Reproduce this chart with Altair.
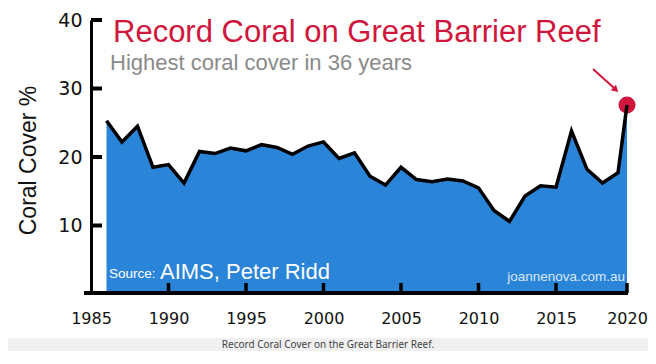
import altair as alt
import pandas as pd

# ---- data ----
years = list(range(1986, 2021))
cover = [25.3, 22.2, 24.5, 18.5, 18.9, 16.2, 20.8, 20.5, 21.3, 20.9,
         21.8, 21.4, 20.4, 21.6, 22.2, 19.8, 20.6, 17.2, 15.9, 18.5,
         16.7, 16.4, 16.8, 16.5, 15.5, 12.2, 10.6, 14.3, 15.8, 15.6,
         23.8, 18.2, 16.2, 17.7, 27.6]
x_ticks = [1985, 1990, 1995, 2000, 2005, 2010, 2015, 2020]
y_ticks = [10, 20, 30, 40]
title_text = "Record Coral on Great Barrier Reef"
subtitle_text = "Highest coral cover in 36 years"
source_label = "Source:"
source_text = "AIMS, Peter Ridd"
credit_text = "joannenova.com.au"
caption_text = "Record Coral Cover on the Great Barrier Reef."

df = pd.DataFrame({"year": years, "cover": cover})
xt = pd.DataFrame({"year": x_ticks[1:]})
yt = pd.DataFrame({"cover": y_ticks})
one = pd.DataFrame({"k": [0]})

W, H = 536, 274
RED = "#d0163c"
BLUE = "#2a84d8"

x_enc = alt.X("year:Q",
              scale=alt.Scale(domain=[1985, 2019, 2020], range=[0, 527, 536]),
              axis=alt.Axis(values=x_ticks, format="d", tickSize=0, domain=False,
                            grid=False, labelFont="DejaVu Sans", labelFontSize=16,
                            labelColor="#111", labelPadding=16, labelFlush=False,
                            labelOverlap=False, title=None, zindex=1))
y_enc = alt.Y("cover:Q",
              scale=alt.Scale(domain=[0, 40], nice=False, zero=True),
              axis=alt.Axis(values=y_ticks, tickSize=0, domain=True, domainWidth=3,
                            domainColor="black", grid=False, labelFont="DejaVu Sans",
                            labelFontSize=19, labelColor="#111", labelPadding=9,
                            labelFlush=False, title="Coral Cover %",
                            titleFont="Liberation Sans", titleFontSize=23,
                            titleFontWeight="normal", titleColor="#111",
                            titleX=-56, titleY=140, titleBaseline="alphabetic",
                            titleAlign="center", zindex=1))

panel = alt.Chart(one).mark_rect(fill="white").encode(
    x=alt.value(-83), x2=alt.value(557), y=alt.value(-12), y2=alt.value(318))

area = alt.Chart(df).mark_area(color=BLUE, opacity=1).encode(x=x_enc, y=y_enc)
dot = alt.Chart(df).transform_filter("datum.year == 2020").mark_circle(
    size=290, color=RED, opacity=1).encode(x=x_enc, y=y_enc)
line = alt.Chart(df).mark_line(color="black", strokeWidth=3.5).encode(x=x_enc, y=y_enc)

ytick = alt.Chart(yt).mark_rule(color="black", strokeWidth=4).encode(
    y=y_enc, x=alt.value(0), x2=alt.value(11))
xtick = alt.Chart(xt).mark_rule(color="black", strokeWidth=3.5).encode(
    x=x_enc, y=alt.value(273), y2=alt.value(263))
xline = alt.Chart(one).mark_rule(color="black", strokeWidth=4).encode(
    x=alt.value(-7), x2=alt.value(537), y=alt.value(273))


def label(text, x, y, size, color, align="left", font="Liberation Sans"):
    return alt.Chart(one).mark_text(text=text, align=align, baseline="alphabetic",
                                    font=font, fontSize=size, color=color).encode(
        x=alt.value(x), y=alt.value(y))


texts = [
    label(title_text, 22, 22, 31, RED),
    label(subtitle_text, 19, 50, 22, "#8a8a8a"),
    label(source_label, 18, 258, 13.5, "white"),
    label(source_text, 69, 259, 22, "white"),
    label(credit_text, 534, 261, 13.5, "#d8e8f8", align="right"),
    label(caption_text, 237, 328, 10, "#444", align="center", font="Noto Sans"),
]

arrow = alt.Chart(one).mark_rule(color=RED, strokeWidth=2).encode(
    x=alt.value(502), y=alt.value(49), x2=alt.value(523), y2=alt.value(68))
head = alt.Chart(one).mark_point(shape="triangle", filled=True, size=60, angle=133,
                                 color=RED, opacity=1).encode(
    x=alt.value(524), y=alt.value(69))

chart = alt.layer(panel, area, dot, line, ytick, xtick, xline, *texts, arrow, head).properties(
    width=W, height=H,
    autosize=alt.AutoSizeParams(type="none"),
    padding={"left": 83, "right": 21, "top": 12, "bottom": 57},
    background="#f0f0f0",
).configure_view(stroke=None)

chart.save("out.html", embed_options={"renderer": "svg", "actions": False})
